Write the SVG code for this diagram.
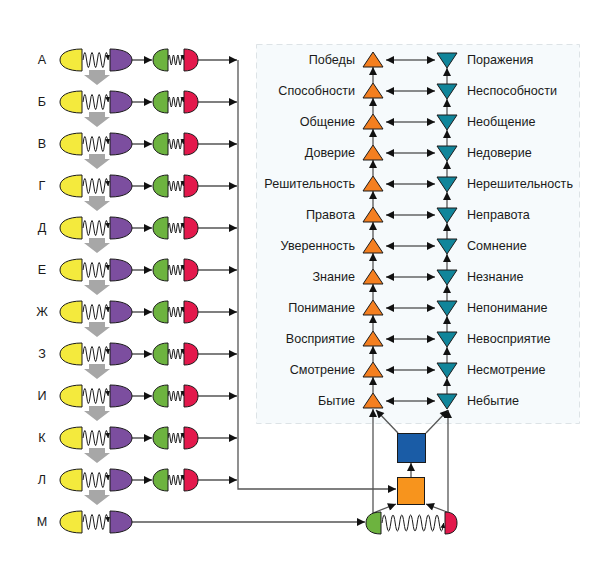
<svg xmlns="http://www.w3.org/2000/svg" xmlns:xlink="http://www.w3.org/1999/xlink" width="596" height="581" viewBox="0 0 596 581">
<style>
text{font-family:"Liberation Sans",Arial,sans-serif;font-size:12.6px;fill:#1a1a1a}
.l{text-anchor:end}
.k{text-anchor:middle}
.sh{stroke:#1a1a1a;stroke-width:1}
.y{fill:#f4ea3d}.p{fill:#7c4e9f}.g{fill:#6db33f}.r{fill:#e3194c}
.o{fill:#f47f20}.t{fill:#10859a}
.w{fill:none;stroke:#1a1a1a;stroke-width:1}
.c{fill:none;stroke:#1a1a1a;stroke-width:1.1}
.cg{fill:none;stroke:#555;stroke-width:1.3}
.ga{fill:#a7a7a7}
</style>
<defs>
<marker id="ah" viewBox="0 0 10 10" refX="10" refY="5" markerWidth="9" markerHeight="8" markerUnits="userSpaceOnUse" orient="auto-start-reverse"><path d="M0,0 L10,5 L0,10 z" fill="#111"/></marker>
<marker id="as" viewBox="0 0 10 10" refX="10" refY="5" markerWidth="5" markerHeight="5" markerUnits="userSpaceOnUse" orient="auto"><path d="M0,0 L10,5 L0,10 z" fill="#111"/></marker>
<g id="unitm">
<path class="w" marker-end="url(#as)" d="M83,0 q1.8,-15 3.6,0 t3.6,0 t3.6,0 t3.6,0 t3.6,0 t3.6,0 t3.6,0"/>
<path class="y sh" d="M82,-11 C67,-11 60,-6 60,0 C60,6 67,11 82,11 Z"/>
<path class="p sh" d="M110,-11 C125,-11 132,-6 132,0 C132,6 125,11 110,11 Z"/>
</g>
<g id="unit">
<use xlink:href="#unitm"/>
<line class="c" x1="132" y1="0" x2="152" y2="0" marker-end="url(#ah)"/>
<path class="w" marker-end="url(#as)" d="M168,0 q1.1,-10 2.2,0 t2.2,0 t2.2,0 t2.2,0 t2.2,0 t2.2,0 t2.2,0"/>
<path class="g sh" d="M168,-11 C158,-11 153,-6 153,0 C153,6 158,11 168,11 Z"/>
<path class="r sh" d="M184,-11 C194,-11 198,-6 198,0 C198,6 194,11 184,11 Z"/>
</g>
<path id="gar" d="M89,70 L105,70 L105,75 L110,75 L97,85 L84,75 L89,75 Z"/>
<path id="tu" d="M373,-8 L383,7 L363,7 Z"/>
<path id="td" d="M437,-7 L457,-7 L447,8 Z"/>
</defs>

<rect x="256.5" y="44.5" width="323" height="379" fill="#f6fafc" stroke="#dde3e6" stroke-dasharray="6 4"/>

<g id="gray-arrows" class="ga">
<use xlink:href="#gar" y="0"/><use xlink:href="#gar" y="42"/><use xlink:href="#gar" y="84"/><use xlink:href="#gar" y="126"/>
<use xlink:href="#gar" y="168"/><use xlink:href="#gar" y="210"/><use xlink:href="#gar" y="252"/><use xlink:href="#gar" y="294"/>
<use xlink:href="#gar" y="336"/><use xlink:href="#gar" y="378"/><use xlink:href="#gar" y="420"/>
</g>

<g id="connectors">
<g class="cg">
<line x1="198" y1="60" x2="237" y2="60" marker-end="url(#ah)"/>
<line x1="198" y1="102" x2="237" y2="102" marker-end="url(#ah)"/>
<line x1="198" y1="144" x2="237" y2="144" marker-end="url(#ah)"/>
<line x1="198" y1="186" x2="237" y2="186" marker-end="url(#ah)"/>
<line x1="198" y1="228" x2="237" y2="228" marker-end="url(#ah)"/>
<line x1="198" y1="270" x2="237" y2="270" marker-end="url(#ah)"/>
<line x1="198" y1="312" x2="237" y2="312" marker-end="url(#ah)"/>
<line x1="198" y1="354" x2="237" y2="354" marker-end="url(#ah)"/>
<line x1="198" y1="396" x2="237" y2="396" marker-end="url(#ah)"/>
<line x1="198" y1="438" x2="237" y2="438" marker-end="url(#ah)"/>
<line x1="198" y1="480" x2="237" y2="480" marker-end="url(#ah)"/>
<path d="M238,60 L238,489 L396,489" marker-end="url(#ah)"/>
<line x1="132" y1="522" x2="365" y2="522" marker-end="url(#ah)"/>
<line x1="373" y1="513" x2="373" y2="409" marker-end="url(#ah)"/>
<line x1="448" y1="512" x2="448" y2="410" marker-end="url(#ah)"/>
<line x1="373" y1="513" x2="396" y2="504" marker-end="url(#ah)"/>
<line x1="447" y1="512" x2="426" y2="504" marker-end="url(#ah)"/>
<line x1="411" y1="478" x2="411" y2="463" marker-end="url(#ah)"/>
<line x1="398" y1="433" x2="376" y2="410" marker-end="url(#ah)"/>
<line x1="426" y1="433" x2="448" y2="410" marker-end="url(#ah)"/>
<line x1="373" y1="83" x2="373" y2="67" marker-end="url(#ah)"/>
<line x1="373" y1="114" x2="373" y2="98" marker-end="url(#ah)"/>
<line x1="373" y1="145" x2="373" y2="129" marker-end="url(#ah)"/>
<line x1="373" y1="176" x2="373" y2="160" marker-end="url(#ah)"/>
<line x1="373" y1="207" x2="373" y2="191" marker-end="url(#ah)"/>
<line x1="373" y1="238" x2="373" y2="222" marker-end="url(#ah)"/>
<line x1="373" y1="269" x2="373" y2="253" marker-end="url(#ah)"/>
<line x1="373" y1="300" x2="373" y2="284" marker-end="url(#ah)"/>
<line x1="373" y1="331" x2="373" y2="315" marker-end="url(#ah)"/>
<line x1="373" y1="362" x2="373" y2="346" marker-end="url(#ah)"/>
<line x1="373" y1="393" x2="373" y2="377" marker-end="url(#ah)"/>
<line x1="447" y1="84" x2="447" y2="68" marker-end="url(#ah)"/>
<line x1="447" y1="115" x2="447" y2="99" marker-end="url(#ah)"/>
<line x1="447" y1="146" x2="447" y2="130" marker-end="url(#ah)"/>
<line x1="447" y1="177" x2="447" y2="161" marker-end="url(#ah)"/>
<line x1="447" y1="208" x2="447" y2="192" marker-end="url(#ah)"/>
<line x1="447" y1="239" x2="447" y2="223" marker-end="url(#ah)"/>
<line x1="447" y1="270" x2="447" y2="254" marker-end="url(#ah)"/>
<line x1="447" y1="301" x2="447" y2="285" marker-end="url(#ah)"/>
<line x1="447" y1="332" x2="447" y2="316" marker-end="url(#ah)"/>
<line x1="447" y1="363" x2="447" y2="347" marker-end="url(#ah)"/>
<line x1="447" y1="394" x2="447" y2="378" marker-end="url(#ah)"/>
</g>
<g class="c">
<line x1="386" y1="60" x2="435" y2="60" marker-start="url(#ah)" marker-end="url(#ah)"/>
<line x1="386" y1="91" x2="435" y2="91" marker-start="url(#ah)" marker-end="url(#ah)"/>
<line x1="386" y1="122" x2="435" y2="122" marker-start="url(#ah)" marker-end="url(#ah)"/>
<line x1="386" y1="153" x2="435" y2="153" marker-start="url(#ah)" marker-end="url(#ah)"/>
<line x1="386" y1="184" x2="435" y2="184" marker-start="url(#ah)" marker-end="url(#ah)"/>
<line x1="386" y1="215" x2="435" y2="215" marker-start="url(#ah)" marker-end="url(#ah)"/>
<line x1="386" y1="246" x2="435" y2="246" marker-start="url(#ah)" marker-end="url(#ah)"/>
<line x1="386" y1="277" x2="435" y2="277" marker-start="url(#ah)" marker-end="url(#ah)"/>
<line x1="386" y1="308" x2="435" y2="308" marker-start="url(#ah)" marker-end="url(#ah)"/>
<line x1="386" y1="339" x2="435" y2="339" marker-start="url(#ah)" marker-end="url(#ah)"/>
<line x1="386" y1="370" x2="435" y2="370" marker-start="url(#ah)" marker-end="url(#ah)"/>
<line x1="386" y1="401" x2="435" y2="401" marker-start="url(#ah)" marker-end="url(#ah)"/>
</g>
</g>

<g id="row-A"><text class="k" x="42" y="64">А</text><use xlink:href="#unit" y="60"/></g>
<g id="row-B"><text class="k" x="42" y="106">Б</text><use xlink:href="#unit" y="102"/></g>
<g id="row-V"><text class="k" x="42" y="148">В</text><use xlink:href="#unit" y="144"/></g>
<g id="row-G"><text class="k" x="42" y="190">Г</text><use xlink:href="#unit" y="186"/></g>
<g id="row-D"><text class="k" x="42" y="232">Д</text><use xlink:href="#unit" y="228"/></g>
<g id="row-E"><text class="k" x="42" y="274">Е</text><use xlink:href="#unit" y="270"/></g>
<g id="row-Zh"><text class="k" x="42" y="316">Ж</text><use xlink:href="#unit" y="312"/></g>
<g id="row-Z"><text class="k" x="42" y="358">З</text><use xlink:href="#unit" y="354"/></g>
<g id="row-I"><text class="k" x="42" y="400">И</text><use xlink:href="#unit" y="396"/></g>
<g id="row-K"><text class="k" x="42" y="442">К</text><use xlink:href="#unit" y="438"/></g>
<g id="row-L"><text class="k" x="42" y="484">Л</text><use xlink:href="#unit" y="480"/></g>
<g id="row-M"><text class="k" x="42" y="526">М</text><use xlink:href="#unitm" y="522"/></g>

<g id="pos-col" class="o sh">
<use xlink:href="#tu" y="60"/><use xlink:href="#tu" y="91"/><use xlink:href="#tu" y="122"/><use xlink:href="#tu" y="153"/>
<use xlink:href="#tu" y="184"/><use xlink:href="#tu" y="215"/><use xlink:href="#tu" y="246"/><use xlink:href="#tu" y="277"/>
<use xlink:href="#tu" y="308"/><use xlink:href="#tu" y="339"/><use xlink:href="#tu" y="370"/><use xlink:href="#tu" y="401"/>
</g>
<g id="neg-col" class="t sh">
<use xlink:href="#td" y="60"/><use xlink:href="#td" y="91"/><use xlink:href="#td" y="122"/><use xlink:href="#td" y="153"/>
<use xlink:href="#td" y="184"/><use xlink:href="#td" y="215"/><use xlink:href="#td" y="246"/><use xlink:href="#td" y="277"/>
<use xlink:href="#td" y="308"/><use xlink:href="#td" y="339"/><use xlink:href="#td" y="370"/><use xlink:href="#td" y="401"/>
</g>
<g id="pos-labels">
<text class="l" x="355" y="64">Победы</text>
<text class="l" x="355" y="95">Способности</text>
<text class="l" x="355" y="126">Общение</text>
<text class="l" x="355" y="157">Доверие</text>
<text class="l" x="355" y="188">Решительность</text>
<text class="l" x="355" y="219">Правота</text>
<text class="l" x="355" y="250">Уверенность</text>
<text class="l" x="355" y="281">Знание</text>
<text class="l" x="355" y="312">Понимание</text>
<text class="l" x="355" y="343">Восприятие</text>
<text class="l" x="355" y="374">Смотрение</text>
<text class="l" x="355" y="405">Бытие</text>
</g>
<g id="neg-labels">
<text x="467" y="64">Поражения</text>
<text x="467" y="95">Неспособности</text>
<text x="467" y="126">Необщение</text>
<text x="467" y="157">Недоверие</text>
<text x="467" y="188">Нерешительность</text>
<text x="467" y="219">Неправота</text>
<text x="467" y="250">Сомнение</text>
<text x="467" y="281">Незнание</text>
<text x="467" y="312">Непонимание</text>
<text x="467" y="343">Невосприятие</text>
<text x="467" y="374">Несмотрение</text>
<text x="467" y="405">Небытие</text>
</g>

<g id="blue-square"><rect x="397.5" y="433.5" width="28" height="29" fill="#1a5ca6" stroke="#1a1a1a"/></g>
<g id="orange-square"><rect x="397.5" y="477.5" width="27" height="27" fill="#f7941d" stroke="#1a1a1a"/></g>
<g id="bottom-pair">
<path class="w" marker-end="url(#as)" d="M382,523 q2.2,-16 4.4,0 t4.4,0 t4.4,0 t4.4,0 t4.4,0 t4.4,0 t4.4,0 t4.4,0 t4.4,0 t4.4,0 t4.4,0 t4.4,0 t4.4,0 t4.4,0"/>
<path class="g sh" d="M381,512 C370,512 366,517 366,523 C366,529 370,534 381,534 Z"/>
<path class="r sh" d="M445,512 C454,512 457,517 457,523 C457,529 454,534 445,534 Z"/>
</g>
</svg>
